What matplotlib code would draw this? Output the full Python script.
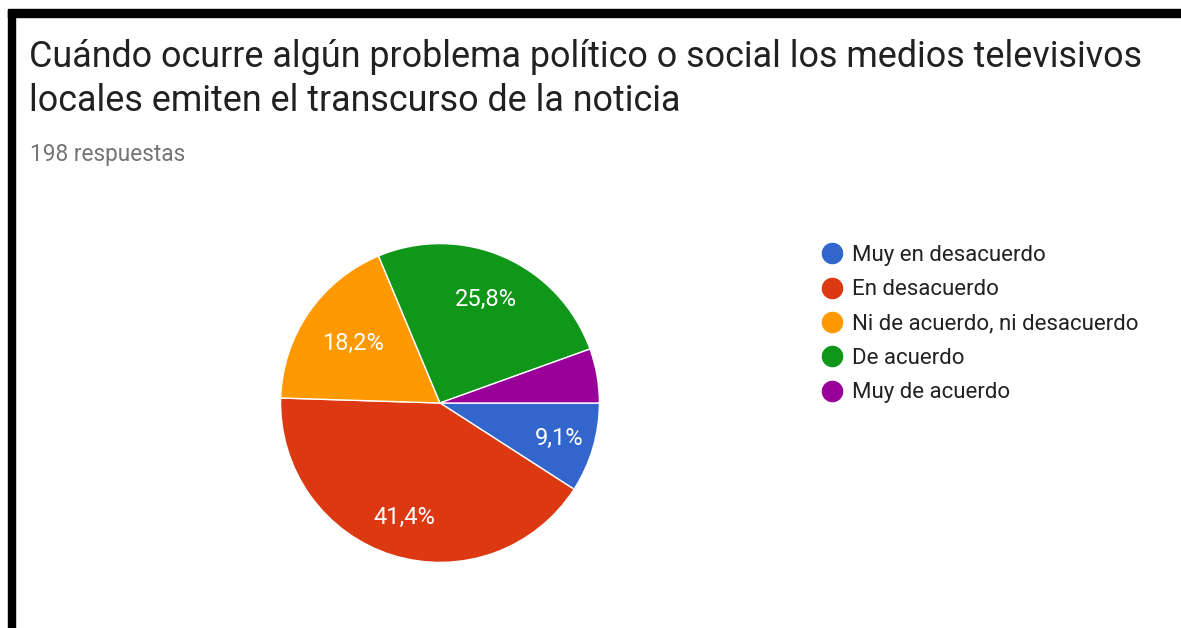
import matplotlib
matplotlib.use("Agg")
import matplotlib.pyplot as plt
from matplotlib.lines import Line2D
from matplotlib.patches import Rectangle
import numpy as np

plt.rcParams['font.family'] = ['Roboto', 'DejaVu Sans']

title_lines = ["Cuándo ocurre algún problema político o social los medios televisivos",
               "locales emiten el transcurso de la noticia"]
subtitle = "198 respuestas"
categories = ["Muy en desacuerdo", "En desacuerdo", "Ni de acuerdo, ni desacuerdo",
              "De acuerdo", "Muy de acuerdo"]
percents = [9.1, 41.4, 18.2, 25.8, 5.5]
colors = ["#3366cc", "#dc3912", "#ff9900", "#109618", "#990099"]

W, H = 1181, 628
fig = plt.figure(figsize=(W / 100, H / 100), dpi=100)
fig.patch.set_facecolor("white")

def px(x, y):
    return x / W, 1 - y / H

# black frame pieces (top and left)
fig.add_artist(Rectangle(px(8, 17), (W - 8) / W, 8 / H, transform=fig.transFigure,
                         color="black", zorder=5))
fig.add_artist(Rectangle(px(8, H), 7 / W, (H - 10) / H, transform=fig.transFigure,
                         color="black", zorder=5))

fig.text(*px(29, 67), title_lines[0], fontsize=25.8, color="#212121", va="baseline")
fig.text(*px(29, 111), title_lines[1], fontsize=25.8, color="#212121", va="baseline")
fig.text(*px(30, 161), subtitle, fontsize=16.3, color="#757575", va="baseline")

# pie
cx, cy, r = 440, 403, 161
ax = fig.add_axes([(cx - r) / W, (H - cy - r) / H, 2 * r / W, 2 * r / H])
wedges, texts, autotexts = ax.pie(
    percents, colors=colors, startangle=0, counterclock=False, radius=1,
    autopct=lambda p: f"{p:.1f}%".replace(".", ",") if p > 6 else "",
    pctdistance=0.72,
    wedgeprops=dict(edgecolor="white", linewidth=1),
    textprops=dict(color="white", fontsize=17))
ax.set_xlim(-1.01, 1.01)
ax.set_ylim(-1.01, 1.01)
ax.axis("off")

# per-label radial offsets as in the original
label_r = [0.78, 0.75, 0.66, 0.71, 0.7]
for t, w, lr in zip(autotexts, wedges, label_r):
    ang = np.deg2rad((w.theta1 + w.theta2) / 2)
    t.set_position((lr * np.cos(ang), lr * np.sin(ang)))

handles = [Line2D([], [], marker="o", linestyle="none", markersize=14.5,
                  markerfacecolor=c, markeredgecolor=c) for c in colors]
fig.legend(handles, categories, loc="upper left", bbox_to_anchor=px(823, 245),
           frameon=False, fontsize=16, handlelength=0.8, handletextpad=0.5,
           labelspacing=0.6, borderpad=0, borderaxespad=0, labelcolor="#222222")

fig.savefig("out.png", dpi=100, facecolor="white")
